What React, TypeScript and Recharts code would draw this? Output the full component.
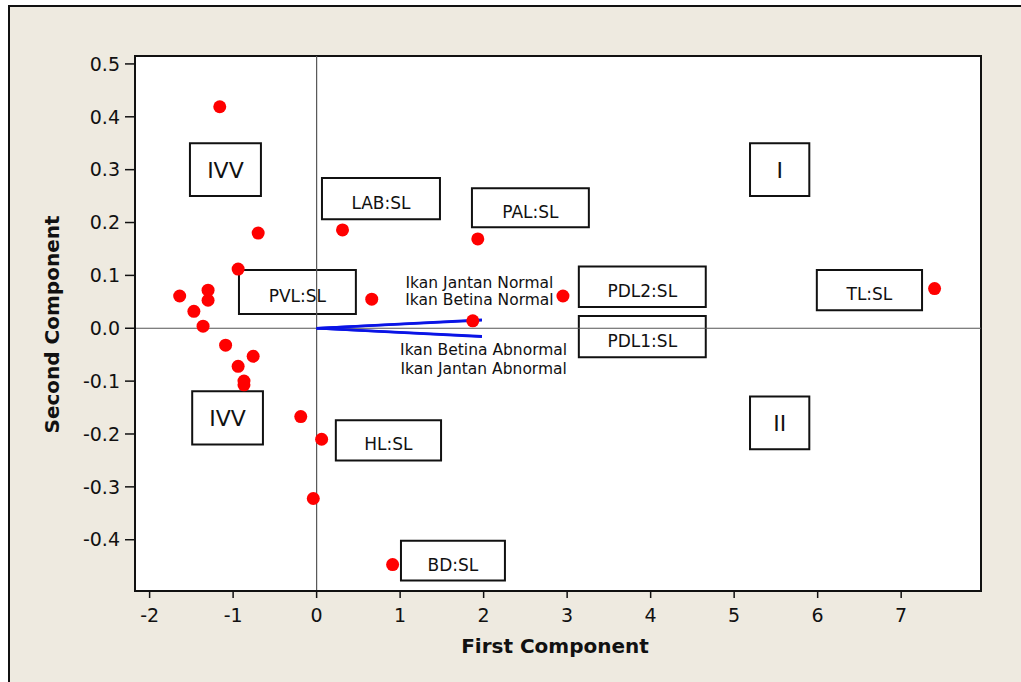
import {
  ReferenceArea,
  ReferenceLine,
  Scatter,
  ScatterChart,
  XAxis,
  YAxis,
} from 'recharts';

const FONT = '"DejaVu Sans", Verdana, sans-serif';

// scores
const firstComponent = [
  -1.16, -0.7, -0.94, -1.64, -1.3, -1.3, -1.47, -1.36, -1.09, -0.76, -0.94, -0.87,
  -0.87, -0.19, 0.06, -0.04, 0.91, 0.31, 0.66, 1.93, 1.87, 2.95, 7.4,
];
const secondComponent = [
  0.419, 0.18, 0.112, 0.061, 0.072, 0.053, 0.032, 0.004, -0.032, -0.053, -0.072, -0.1,
  -0.107, -0.167, -0.21, -0.322, -0.447, 0.186, 0.055, 0.169, 0.014, 0.061, 0.075,
];

// loading vectors (end points)
const loadingNames = ['Ikan Jantan Normal', 'Ikan Betina Normal', 'Ikan Betina Abnormal', 'Ikan Jantan Abnormal'];
const loadingEndX = [1.98, 1.98, 1.98, 1.98];
const loadingEndY = [0.016, 0.015, -0.015, -0.016];
const loadingLabelX = [1.95, 1.95, 2.0, 2.0];
const loadingLabelY = [0.088, 0.055, -0.04, -0.075];

// variable / quadrant boxes in data units
const boxLabels = ['IVV', 'IVV', 'I', 'II', 'LAB:SL', 'PAL:SL', 'PVL:SL', 'PDL2:SL', 'PDL1:SL', 'TL:SL', 'HL:SL', 'BD:SL'];
const boxX1 = [-1.517, -1.49, 5.19, 5.19, 0.064, 1.86, -0.93, 3.14, 3.14, 5.99, 0.23, 1.01];
const boxX2 = [-0.667, -0.643, 5.9, 5.9, 1.477, 3.26, 0.47, 4.66, 4.66, 7.25, 1.49, 2.255];
const boxY1 = [0.25, -0.22, 0.25, -0.229, 0.206, 0.191, 0.027, 0.04, -0.055, 0.034, -0.25, -0.477];
const boxY2 = [0.35, -0.119, 0.35, -0.129, 0.284, 0.265, 0.11, 0.117, 0.023, 0.11, -0.174, -0.402];

const xTicks = [-2, -1, 0, 1, 2, 3, 4, 5, 6, 7];
const yTicks = [-0.4, -0.3, -0.2, -0.1, 0, 0.1, 0.2, 0.3, 0.4, 0.5];

const X_DOMAIN: [number, number] = [-2.175, 7.956];
const Y_DOMAIN: [number, number] = [-0.497, 0.515];

const scores = firstComponent.map((x, i) => ({ x, y: secondComponent[i] }));
const loadingLabels = loadingNames.map((name, i) => ({ x: loadingLabelX[i], y: loadingLabelY[i], name }));

const BoxLabel = (props: any) => {
  const { viewBox, text } = props;
  if (!viewBox) return null;
  const big = text.indexOf(':') < 0;
  return (
    <text
      x={viewBox.x + viewBox.width / 2}
      y={viewBox.y + viewBox.height / 2}
      dy={big ? 8 : 10}
      textAnchor="middle"
      fontFamily={FONT}
      fontSize={big ? 22 : 17}
      fill="#111"
    >
      {text}
    </text>
  );
};

const XTitle = (props: any) => {
  const { viewBox } = props;
  if (!viewBox) return null;
  return (
    <text
      x={viewBox.x + viewBox.width / 2 - 3}
      y={653}
      textAnchor="middle"
      fontFamily={FONT}
      fontWeight="bold"
      fontSize={20}
      fill="#111"
    >
      First Component
    </text>
  );
};

const YTitle = (props: any) => {
  const { viewBox } = props;
  if (!viewBox) return null;
  const cy = viewBox.y + viewBox.height / 2 + 1;
  return (
    <text
      x={52}
      y={cy}
      transform={`rotate(-90 52 ${cy})`}
      textAnchor="middle"
      dominantBaseline="central"
      fontFamily={FONT}
      fontWeight="bold"
      fontSize={20}
      fill="#111"
    >
      Second Component
    </text>
  );
};

const Dot = (props: any) => <circle cx={props.cx} cy={props.cy} r={6.5} fill="#ff0000" />;

const LoadingText = (props: any) => (
  <text
    x={props.cx}
    y={props.cy}
    dy={6}
    textAnchor="middle"
    fontFamily={FONT}
    fontSize={15.5}
    fill="#111"
  >
    {props.payload.name}
  </text>
);

export default function App() {
  return (
    <div style={{ position: 'absolute', left: 0, top: 0, width: 1021, height: 682, background: '#fff', overflow: 'hidden' }}>
      <div
        style={{
          position: 'absolute',
          left: 8,
          top: 5,
          width: 1030,
          height: 690,
          background: '#eeeae0',
          borderLeft: '2px solid #111',
          borderTop: '2px solid #111',
        }}
      />
      <div style={{ position: 'absolute', left: 0, top: 0 }}>
        <ScatterChart width={1021} height={682} margin={{ top: 56, right: 40, bottom: 0, left: 0 }}>
          <ReferenceArea
            x1={X_DOMAIN[0]}
            x2={X_DOMAIN[1]}
            y1={Y_DOMAIN[0]}
            y2={Y_DOMAIN[1]}
            fill="#ffffff"
            fillOpacity={1}
            stroke="#111"
            strokeWidth={2}
            ifOverflow="visible"
          />
          <XAxis
            type="number"
            dataKey="x"
            domain={X_DOMAIN}
            ticks={xTicks}
            allowDataOverflow
            height={91}
            tickSize={7}
            tickMargin={11}
            axisLine={{ stroke: '#111', strokeWidth: 2 }}
            tickLine={{ stroke: '#111', strokeWidth: 1.5 }}
            tick={{ fontSize: 19, fontFamily: FONT, fill: '#111' }}
            label={<XTitle />}
          />
          <YAxis
            type="number"
            dataKey="y"
            domain={Y_DOMAIN}
            ticks={yTicks}
            allowDataOverflow
            width={135}
            tickSize={10}
            tickMargin={5}
            tickFormatter={(v: number) => v.toFixed(1)}
            axisLine={{ stroke: '#111', strokeWidth: 2 }}
            tickLine={{ stroke: '#111', strokeWidth: 1.5 }}
            tick={{ fontSize: 19, fontFamily: FONT, fill: '#111' }}
            label={<YTitle />}
          />
          <ReferenceLine x={0} stroke="#555" strokeWidth={1.2} />
          <ReferenceLine y={0} stroke="#555" strokeWidth={1.2} />
          {loadingNames.map((n, i) => (
            <ReferenceLine
              key={n}
              segment={[
                { x: 0, y: 0 },
                { x: loadingEndX[i], y: loadingEndY[i] },
              ]}
              stroke="#0a14e6"
              strokeWidth={2.5}
            />
          ))}
          {boxLabels.map((t, i) => (
            <ReferenceArea
              key={t + i}
              x1={boxX1[i]}
              x2={boxX2[i]}
              y1={boxY1[i]}
              y2={boxY2[i]}
              fill="#ffffff"
              fillOpacity={1}
              stroke="#111"
              strokeWidth={2}
              label={<BoxLabel text={t} />}
            />
          ))}
          <Scatter data={loadingLabels} shape={LoadingText} isAnimationActive={false} />
          <Scatter data={scores} shape={Dot} isAnimationActive={false} />
        </ScatterChart>
      </div>
    </div>
  );
}
